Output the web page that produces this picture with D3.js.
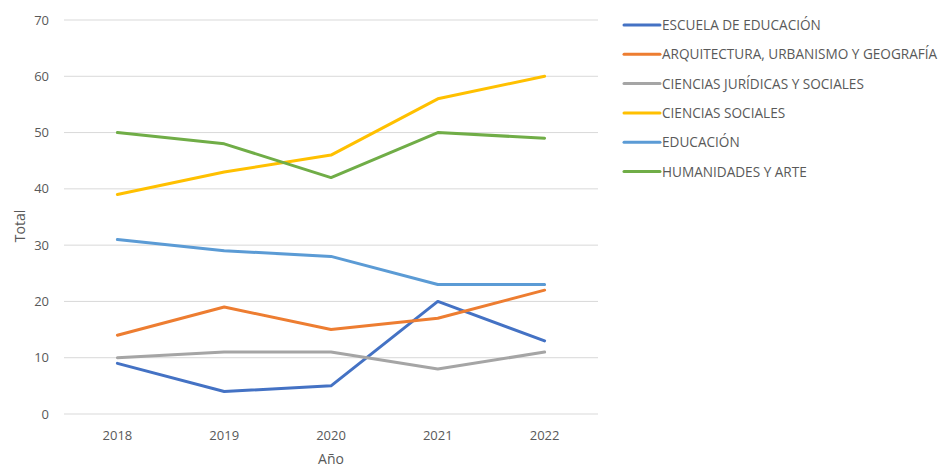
<!DOCTYPE html>
<html><head><meta charset="utf-8">
<script src="https://cdn.jsdelivr.net/npm/d3@7"></script>
<style>body{margin:0;background:#fff}svg{display:block}text{font-family:"Open Sans",sans-serif;fill:#595959}</style>
</head><body><svg id="c" width="943" height="468"></svg>
<script>
const years = ["2018","2019","2020","2021","2022"];
const seriesNames = ["ESCUELA DE EDUCACIÓN","ARQUITECTURA, URBANISMO Y GEOGRAFÍA","CIENCIAS JURÍDICAS Y SOCIALES","CIENCIAS SOCIALES","EDUCACIÓN","HUMANIDADES Y ARTE"];
const escuela = [9,4,5,20,13];
const arquitectura = [14,19,15,17,22];
const juridicas = [10,11,11,8,11];
const sociales = [39,43,46,56,60];
const educacion = [31,29,28,23,23];
const humanidades = [50,48,42,50,49];
const yTicks = [0,10,20,30,40,50,60,70];
const colors = ["#4472C4","#ED7D31","#A5A5A5","#FFC000","#5B9BD5","#70AD47"];
const allValues = [escuela,arquitectura,juridicas,sociales,educacion,humanidades];

const svg = d3.select("#c");
const x = d3.scaleBand().domain(years).range([64,598]);
const y = d3.scaleLinear().domain([0,70]).range([414,20]);

svg.append("g").selectAll("line").data(yTicks).join("line")
  .attr("x1",64).attr("x2",598).attr("y1",d=>y(d)).attr("y2",d=>y(d))
  .attr("stroke","#d9d9d9").attr("stroke-width",1);
svg.append("g").selectAll("text").data(yTicks).join("text")
  .attr("x",49).attr("y",d=>y(d)+4.5).attr("text-anchor","end").attr("font-size",13).text(d=>d);
svg.append("g").selectAll("text").data(years).join("text")
  .attr("x",d=>x(d)+x.bandwidth()/2).attr("y",440).attr("text-anchor","middle").attr("font-size",13).text(d=>d);
svg.append("text").attr("x",331).attr("y",464).attr("text-anchor","middle").attr("font-size",14).text("Año");
svg.append("text").attr("transform","translate(25,226) rotate(-90)").attr("text-anchor","middle").attr("font-size",14).text("Total");

const line = d3.line().x((d,i)=>x(years[i])+x.bandwidth()/2).y(d=>y(d));
svg.append("g").selectAll("path").data(allValues).join("path")
  .attr("d",line).attr("fill","none").attr("stroke",(d,i)=>colors[i]).attr("stroke-width",3).attr("stroke-linejoin","round").attr("stroke-linecap","round");

const lg = svg.append("g").selectAll("g").data(seriesNames).join("g")
  .attr("transform",(d,i)=>`translate(624,${25+i*29.3})`);
lg.append("line").attr("x1",0).attr("x2",36).attr("stroke",(d,i)=>colors[i]).attr("stroke-width",3).attr("stroke-linecap","round");
lg.append("text").attr("x",38).attr("y",5).attr("font-size",13.6).text(d=>d);
</script></body></html>
